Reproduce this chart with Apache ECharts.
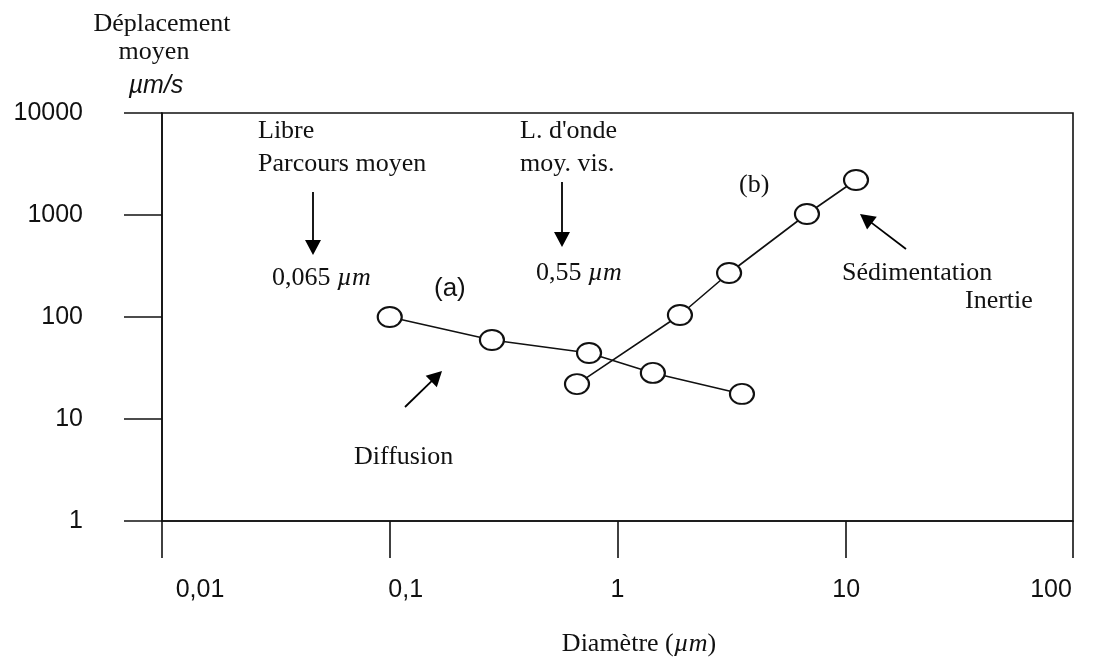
<!DOCTYPE html>
<html>
<head>
<meta charset="utf-8">
<script src="https://cdn.jsdelivr.net/npm/echarts@6/dist/echarts.min.js"></script>
<style>
html,body{margin:0;padding:0;background:#fff;}
#chart{width:1098px;height:669px;}
</style>
</head>
<body>
<div id="chart"></div>
<script>
// ---- data ----
const seriesADiam = [0.1, 0.281, 0.75, 1.43, 3.52];
const seriesAVel  = [100, 59.5, 44.4, 28.3, 17.6];
const seriesBDiam = [0.664, 1.88, 3.09, 6.79, 11.15];
const seriesBVel  = [22.0, 104.6, 270, 1023, 2204];
const xTickLabels = ['0,01', '0,1', '1', '10', '100'];
const yTickLabels = ['1', '10', '100', '1000', '10000'];

const SERIF = '"Liberation Serif", "Times New Roman", serif';
const SANS = '"Liberation Sans", Arial, sans-serif';

const chart = echarts.init(document.getElementById('chart'), null, {renderer: 'canvas'});

function pairs(xs, ys) { return xs.map((x, i) => [x, ys[i]]); }

function arrow(x1, y1, x2, y2) {
  const dx = x2 - x1, dy = y2 - y1;
  const L = Math.sqrt(dx * dx + dy * dy);
  const ux = dx / L, uy = dy / L;
  const hl = 15, hw = 8;
  const bx = x2 - ux * hl, by = y2 - uy * hl;
  return [
    {type: 'line', shape: {x1: x1, y1: y1, x2: bx + ux * 2, y2: by + uy * 2},
     style: {stroke: '#000', lineWidth: 1.8}},
    {type: 'polygon', shape: {points: [[x2, y2], [bx - uy * hw, by + ux * hw], [bx + uy * hw, by - ux * hw]]},
     style: {fill: '#000'}}
  ];
}

function txt(text, x, y, font, opts) {
  return Object.assign({type: 'text', x: x, y: y,
    style: Object.assign({text: text, font: font, fill: '#111', textAlign: 'left', textVerticalAlign: 'middle'}, opts || {})});
}

const sf = '26px ' + SERIF;
const si = 'italic 26px ' + SERIF;
const graphics = [].concat(
  [
    txt('Déplacement', 162, 24, sf, {textAlign: 'center'}),
    txt('moyen', 154, 52, sf, {textAlign: 'center'}),
    txt('µm/s', 156, 86, 'italic 25px ' + SANS, {textAlign: 'center'}),
    txt('Libre', 258, 131, sf),
    txt('Parcours moyen', 258, 164, sf),
    {type: 'text', x: 272, y: 278, style: {rich: {n: {font: sf, fill: '#111'}, i: {font: si, fill: '#111'}}, text: '{n|0,065 }{i|µm}', textVerticalAlign: 'middle'}},
    txt('(a)', 434, 289, '26px ' + SANS),
    txt('L. d\'onde', 520, 131, sf),
    txt('moy. vis.', 520, 164, sf),
    {type: 'text', x: 536, y: 273, style: {rich: {n: {font: sf, fill: '#111'}, i: {font: si, fill: '#111'}}, text: '{n|0,55 }{i|µm}', textVerticalAlign: 'middle'}},
    txt('(b)', 739, 185, sf),
    txt('Sédimentation', 842, 273, sf),
    txt('Inertie', 965, 301, sf),
    txt('Diffusion', 354, 457, sf),
    {type: 'text', x: 639, y: 644, style: {rich: {n: {font: sf, fill: '#111'}, i: {font: si, fill: '#111'}}, text: '{n|Diamètre (}{i|µm}{n|)}', textAlign: 'center', textVerticalAlign: 'middle'}}
  ],
  arrow(313, 192, 313, 255),
  arrow(562, 182, 562, 247),
  arrow(405, 407, 442, 371),
  arrow(906, 249, 860, 214)
);

// horizontal nudges for x tick labels (as in the reference print)
const xLabelShift = [38, 16, 0, 1, -22];
const xRich = {};
xLabelShift.forEach((d, i) => {
  xRich['s' + i] = {fontFamily: SANS, fontSize: 25, color: '#111',
    padding: d >= 0 ? [0, 0, 0, 2 * d] : [0, -2 * d, 0, 0]};
});

const option = {
  backgroundColor: '#fff',
  animation: false,
  grid: {left: 162, right: 25, top: 113, bottom: 148, show: true, borderColor: '#111', borderWidth: 1.6, backgroundColor: 'transparent'},
  xAxis: {
    type: 'log', logBase: 10, min: 0.01, max: 100,
    axisLine: {show: true, lineStyle: {color: '#111', width: 1.6}},
    axisTick: {show: true, inside: false, length: 37, lineStyle: {color: '#111', width: 1.6}},
    minorTick: {show: false},
    splitLine: {show: false},
    axisLabel: {
      margin: 57, color: '#111', fontFamily: SANS, fontSize: 25, rich: xRich,
      formatter: v => { const k = Math.round(Math.log10(v)) + 2; return '{s' + k + '|' + xTickLabels[k] + '}'; }
    }
  },
  yAxis: {
    type: 'log', logBase: 10, min: 1, max: 10000,
    axisLine: {show: true, lineStyle: {color: '#111', width: 1.6}},
    axisTick: {show: true, inside: false, length: 38, lineStyle: {color: '#111', width: 1.6}},
    splitLine: {show: false},
    axisLabel: {
      margin: 79, color: '#111', fontFamily: SANS, fontSize: 25,
      formatter: v => yTickLabels[Math.round(Math.log10(v))]
    }
  },
  series: [
    {name: '(a)', type: 'line', data: pairs(seriesADiam, seriesAVel),
     symbol: 'emptyCircle', symbolSize: [24, 20],
     lineStyle: {color: '#111', width: 1.6}, itemStyle: {color: '#111', borderWidth: 1.6}, z: 3},
    {name: '(b)', type: 'line', data: pairs(seriesBDiam, seriesBVel),
     symbol: 'emptyCircle', symbolSize: [24, 20],
     lineStyle: {color: '#111', width: 1.6}, itemStyle: {color: '#111', borderWidth: 1.6}, z: 2}
  ],
  graphic: graphics
};
chart.setOption(option);
</script>
</body>
</html>
